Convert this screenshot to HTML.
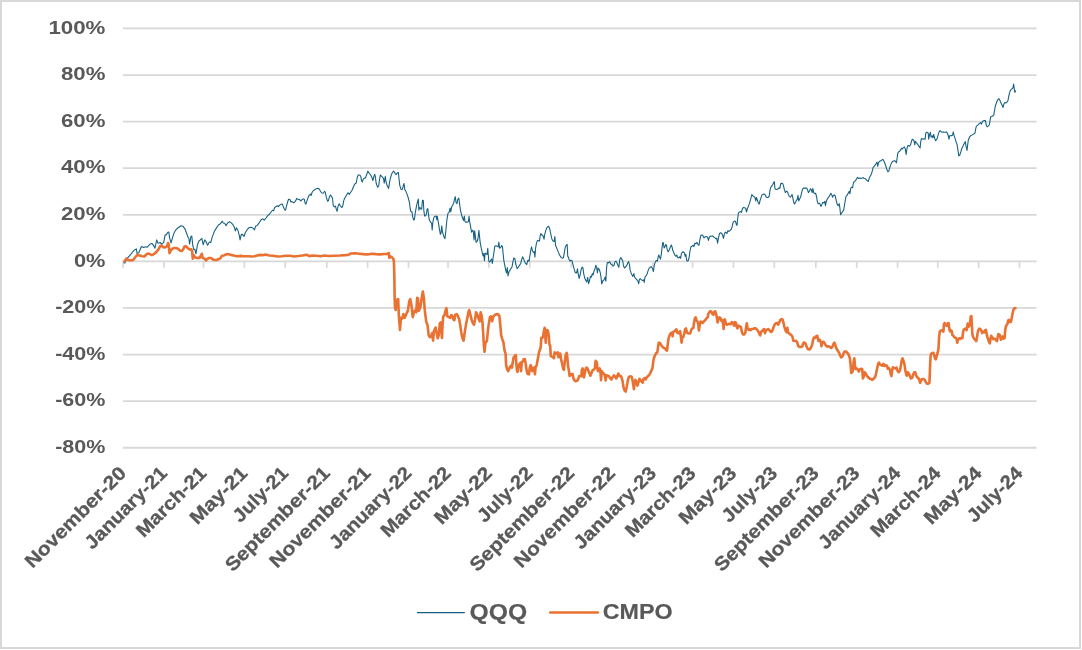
<!DOCTYPE html>
<html lang="en"><head><meta charset="utf-8"><title>QQQ vs CMPO</title>
<style>
html,body{margin:0;padding:0;background:#fff;}
body{width:1082px;height:650px;overflow:hidden;}
svg{display:block;}
text{stroke:#595959;stroke-width:0.3px;stroke-linejoin:round;font-family:"Liberation Sans",Arial,Helvetica,sans-serif;font-weight:700;fill:#595959;font-size:19.0px;}
</style></head><body>
<svg width="1082" height="650" viewBox="0 0 1082 650">
<rect x="0" y="0" width="1082" height="650" fill="#ffffff"/>
<rect x="1" y="1" width="1079" height="647" fill="none" stroke="#d8d8d8" stroke-width="2"/>
<g stroke="#d8d8d8" stroke-width="1.8" fill="none">
<line x1="122.9" y1="28.45" x2="1036.6" y2="28.45"/>
<line x1="122.9" y1="75.04" x2="1036.6" y2="75.04"/>
<line x1="122.9" y1="121.62" x2="1036.6" y2="121.62"/>
<line x1="122.9" y1="168.21" x2="1036.6" y2="168.21"/>
<line x1="122.9" y1="214.80" x2="1036.6" y2="214.80"/>
<line x1="122.9" y1="261.38" x2="1036.6" y2="261.38"/>
<line x1="122.9" y1="307.97" x2="1036.6" y2="307.97"/>
<line x1="122.9" y1="354.56" x2="1036.6" y2="354.56"/>
<line x1="122.9" y1="401.15" x2="1036.6" y2="401.15"/>
<line x1="122.9" y1="447.73" x2="1036.6" y2="447.73"/>
<line x1="123.10" y1="261.38" x2="123.10" y2="267.78" stroke-width="1.7"/>
<line x1="163.97" y1="261.38" x2="163.97" y2="267.78" stroke-width="1.7"/>
<line x1="203.49" y1="261.38" x2="203.49" y2="267.78" stroke-width="1.7"/>
<line x1="244.36" y1="261.38" x2="244.36" y2="267.78" stroke-width="1.7"/>
<line x1="285.23" y1="261.38" x2="285.23" y2="267.78" stroke-width="1.7"/>
<line x1="326.77" y1="261.38" x2="326.77" y2="267.78" stroke-width="1.7"/>
<line x1="367.63" y1="261.38" x2="367.63" y2="267.78" stroke-width="1.7"/>
<line x1="408.50" y1="261.38" x2="408.50" y2="267.78" stroke-width="1.7"/>
<line x1="448.03" y1="261.38" x2="448.03" y2="267.78" stroke-width="1.7"/>
<line x1="488.90" y1="261.38" x2="488.90" y2="267.78" stroke-width="1.7"/>
<line x1="529.76" y1="261.38" x2="529.76" y2="267.78" stroke-width="1.7"/>
<line x1="571.30" y1="261.38" x2="571.30" y2="267.78" stroke-width="1.7"/>
<line x1="612.17" y1="261.38" x2="612.17" y2="267.78" stroke-width="1.7"/>
<line x1="653.03" y1="261.38" x2="653.03" y2="267.78" stroke-width="1.7"/>
<line x1="692.56" y1="261.38" x2="692.56" y2="267.78" stroke-width="1.7"/>
<line x1="733.43" y1="261.38" x2="733.43" y2="267.78" stroke-width="1.7"/>
<line x1="774.30" y1="261.38" x2="774.30" y2="267.78" stroke-width="1.7"/>
<line x1="815.83" y1="261.38" x2="815.83" y2="267.78" stroke-width="1.7"/>
<line x1="856.70" y1="261.38" x2="856.70" y2="267.78" stroke-width="1.7"/>
<line x1="897.57" y1="261.38" x2="897.57" y2="267.78" stroke-width="1.7"/>
<line x1="937.77" y1="261.38" x2="937.77" y2="267.78" stroke-width="1.7"/>
<line x1="978.63" y1="261.38" x2="978.63" y2="267.78" stroke-width="1.7"/>
<line x1="1019.50" y1="261.38" x2="1019.50" y2="267.78" stroke-width="1.7"/>
</g>
<g text-anchor="end" style="filter:grayscale(1)">
<text style="stroke-width:0" x="105.4" y="33.65" textLength="57.0" lengthAdjust="spacingAndGlyphs">100%</text>
<text style="stroke-width:0" x="105.4" y="80.24" textLength="44.4" lengthAdjust="spacingAndGlyphs">80%</text>
<text style="stroke-width:0" x="105.4" y="126.82" textLength="44.4" lengthAdjust="spacingAndGlyphs">60%</text>
<text style="stroke-width:0" x="105.4" y="173.41" textLength="44.4" lengthAdjust="spacingAndGlyphs">40%</text>
<text style="stroke-width:0" x="105.4" y="220.00" textLength="44.4" lengthAdjust="spacingAndGlyphs">20%</text>
<text style="stroke-width:0" x="105.4" y="266.58" textLength="31.5" lengthAdjust="spacingAndGlyphs">0%</text>
<text style="stroke-width:0" x="105.4" y="313.17" textLength="50.2" lengthAdjust="spacingAndGlyphs">-20%</text>
<text style="stroke-width:0" x="105.4" y="359.76" textLength="50.2" lengthAdjust="spacingAndGlyphs">-40%</text>
<text style="stroke-width:0" x="105.4" y="406.35" textLength="50.2" lengthAdjust="spacingAndGlyphs">-60%</text>
<text style="stroke-width:0" x="105.4" y="452.93" textLength="50.2" lengthAdjust="spacingAndGlyphs">-80%</text>
</g>
<g text-anchor="end" style="filter:grayscale(1)">
<text transform="translate(127.30,474.30) rotate(-45)" x="0" y="0" textLength="134.0" lengthAdjust="spacingAndGlyphs">November-20</text>
<text transform="translate(168.17,474.30) rotate(-45)" x="0" y="0" textLength="107.5" lengthAdjust="spacingAndGlyphs">January-21</text>
<text transform="translate(207.69,474.30) rotate(-45)" x="0" y="0" textLength="90.5" lengthAdjust="spacingAndGlyphs">March-21</text>
<text transform="translate(248.56,474.30) rotate(-45)" x="0" y="0" textLength="72.5" lengthAdjust="spacingAndGlyphs">May-21</text>
<text transform="translate(289.43,474.30) rotate(-45)" x="0" y="0" textLength="69.5" lengthAdjust="spacingAndGlyphs">July-21</text>
<text transform="translate(330.97,474.30) rotate(-45)" x="0" y="0" textLength="139.0" lengthAdjust="spacingAndGlyphs">September-21</text>
<text transform="translate(371.83,474.30) rotate(-45)" x="0" y="0" textLength="134.0" lengthAdjust="spacingAndGlyphs">November-21</text>
<text transform="translate(412.70,474.30) rotate(-45)" x="0" y="0" textLength="107.5" lengthAdjust="spacingAndGlyphs">January-22</text>
<text transform="translate(452.23,474.30) rotate(-45)" x="0" y="0" textLength="90.5" lengthAdjust="spacingAndGlyphs">March-22</text>
<text transform="translate(493.10,474.30) rotate(-45)" x="0" y="0" textLength="72.5" lengthAdjust="spacingAndGlyphs">May-22</text>
<text transform="translate(533.96,474.30) rotate(-45)" x="0" y="0" textLength="69.5" lengthAdjust="spacingAndGlyphs">July-22</text>
<text transform="translate(575.50,474.30) rotate(-45)" x="0" y="0" textLength="139.0" lengthAdjust="spacingAndGlyphs">September-22</text>
<text transform="translate(616.37,474.30) rotate(-45)" x="0" y="0" textLength="134.0" lengthAdjust="spacingAndGlyphs">November-22</text>
<text transform="translate(657.23,474.30) rotate(-45)" x="0" y="0" textLength="107.5" lengthAdjust="spacingAndGlyphs">January-23</text>
<text transform="translate(696.76,474.30) rotate(-45)" x="0" y="0" textLength="90.5" lengthAdjust="spacingAndGlyphs">March-23</text>
<text transform="translate(737.63,474.30) rotate(-45)" x="0" y="0" textLength="72.5" lengthAdjust="spacingAndGlyphs">May-23</text>
<text transform="translate(778.50,474.30) rotate(-45)" x="0" y="0" textLength="69.5" lengthAdjust="spacingAndGlyphs">July-23</text>
<text transform="translate(820.03,474.30) rotate(-45)" x="0" y="0" textLength="139.0" lengthAdjust="spacingAndGlyphs">September-23</text>
<text transform="translate(860.90,474.30) rotate(-45)" x="0" y="0" textLength="134.0" lengthAdjust="spacingAndGlyphs">November-23</text>
<text transform="translate(901.77,474.30) rotate(-45)" x="0" y="0" textLength="107.5" lengthAdjust="spacingAndGlyphs">January-24</text>
<text transform="translate(941.97,474.30) rotate(-45)" x="0" y="0" textLength="90.5" lengthAdjust="spacingAndGlyphs">March-24</text>
<text transform="translate(982.83,474.30) rotate(-45)" x="0" y="0" textLength="72.5" lengthAdjust="spacingAndGlyphs">May-24</text>
<text transform="translate(1023.70,474.30) rotate(-45)" x="0" y="0" textLength="69.5" lengthAdjust="spacingAndGlyphs">July-24</text>
</g>
<path d="M123.70,261.81 L124.85,263.06 L126.93,258.62 L130.40,254.88 L133.17,251.28 L134.56,249.89 L136.36,248.92 L137.05,253.49 L138.72,252.66 L141.49,246.56 L143.57,247.53 L145.65,246.84 L147.03,247.26 L149.81,244.34 L151.89,243.37 L153.96,246.15 L154.94,248.23 L156.74,239.91 L158.12,243.37 L160.20,242.40 L161.59,244.07 L163.67,242.40 L165.06,235.06 L166.44,234.64 L167.83,232.28 L168.80,232.01 L169.63,237.83 L171.02,242.96 L172.68,237.13 L174.34,232.28 L176.15,229.51 L178.23,227.71 L181.00,225.77 L183.08,226.32 L184.88,228.82 L186.54,232.98 L187.93,237.13 L188.90,238.24 L189.59,244.07 L190.98,236.44 L191.81,236.03 L192.78,245.45 L193.89,249.61 L194.86,249.33 L195.97,253.77 L197.36,245.45 L198.74,241.29 L200.41,239.91 L201.79,238.24 L203.18,244.76 L204.84,239.91 L206.23,241.99 L207.62,245.18 L209.42,241.99 L210.80,242.40 L212.19,237.13 L214.27,231.59 L216.35,228.12 L218.43,224.94 L220.09,223.96 L221.20,222.58 L222.31,221.19 L223.28,222.99 L224.67,223.27 L226.05,225.77 L227.44,223.27 L229.52,221.61 L230.91,222.58 L232.99,224.66 L234.37,227.43 L235.34,230.90 L236.45,227.71 L237.84,230.20 L239.22,235.06 L240.06,239.91 L241.30,234.36 L242.69,234.64 L244.08,236.44 L245.46,232.28 L246.85,230.20 L248.93,227.71 L251.01,227.15 L253.09,228.12 L254.47,229.93 L255.58,226.32 L257.25,225.35 L259.33,222.58 L261.40,219.39 L262.79,218.84 L264.18,220.22 L266.26,217.73 L267.64,215.65 L269.45,214.26 L271.24,211.69 L272.62,210.30 L273.60,210.72 L274.70,207.53 L276.09,206.56 L277.48,205.73 L278.45,206.56 L279.56,205.18 L280.94,204.34 L282.33,204.07 L283.30,206.84 L284.41,209.33 L285.52,210.30 L286.49,206.15 L287.60,201.99 L288.57,199.21 L289.95,199.49 L290.92,201.99 L292.03,201.57 L293.42,202.68 L294.81,201.99 L295.78,200.60 L296.61,198.52 L297.99,199.21 L299.66,199.63 L300.77,201.02 L301.74,199.91 L303.12,198.80 L304.23,199.21 L305.20,203.37 L305.90,204.07 L307.01,200.60 L308.25,197.13 L309.36,195.06 L310.33,194.09 L311.03,195.47 L312.13,192.28 L313.52,190.48 L315.60,189.09 L317.68,188.26 L319.07,188.82 L320.45,191.31 L321.84,192.98 L323.23,193.25 L324.61,191.31 L325.30,192.28 L326.28,197.13 L327.66,201.29 L328.49,200.60 L329.46,196.44 L330.43,195.06 L331.54,196.44 L332.51,198.52 L333.21,205.45 L334.32,206.84 L335.43,206.15 L336.40,209.61 L337.09,211.28 L338.06,206.15 L339.17,203.79 L340.55,206.15 L341.94,207.53 L342.91,205.45 L343.74,200.60 L344.71,198.24 L346.10,195.75 L347.49,193.67 L348.18,192.70 L349.29,194.36 L350.67,192.28 L352.06,190.20 L353.45,186.74 L354.83,183.96 L356.22,182.99 L357.19,177.73 L358.16,174.95 L359.55,174.95 L360.66,176.06 L361.63,181.19 L362.32,181.89 L363.15,179.39 L364.12,178.42 L365.51,177.73 L366.48,174.95 L367.87,171.07 L368.97,172.87 L370.08,174.26 L371.05,175.65 L372.02,177.73 L372.86,180.50 L373.83,176.62 L374.80,174.26 L375.49,177.73 L376.18,183.27 L377.57,187.15 L378.68,186.04 L379.51,179.81 L380.34,174.95 L381.45,176.06 L382.56,177.45 L383.53,178.42 L384.22,183.27 L385.33,176.34 L385.89,181.19 L387.00,185.35 L388.66,188.54 L389.49,182.58 L390.46,177.73 L391.85,173.57 L393.51,171.07 L394.62,172.46 L396.01,174.68 L397.39,172.87 L398.36,172.46 L399.06,179.11 L399.75,185.35 L401.14,189.51 L402.52,189.23 L403.35,185.35 L404.05,183.55 L404.74,189.51 L405.71,190.90 L407.10,194.36 L408.48,198.52 L409.45,202.68 L410.15,208.23 L410.84,211.69 L411.95,211.69 L412.64,216.54 L413.61,220.01 L414.45,219.32 L415.12,213.57 L416.37,206.64 L417.48,201.78 L418.31,199.01 L418.86,210.10 L419.83,207.33 L420.67,208.72 L421.64,209.13 L422.47,200.40 L423.30,200.40 L423.85,210.79 L424.69,216.06 L425.79,215.65 L426.49,213.57 L427.18,208.72 L427.87,208.72 L428.57,214.95 L429.26,219.81 L430.65,222.16 L431.62,223.27 L432.17,229.93 L432.73,223.27 L433.70,217.73 L434.81,216.34 L436.19,216.06 L436.89,219.81 L437.30,216.34 L438.27,221.89 L439.38,228.82 L440.35,234.36 L441.04,232.98 L441.74,225.77 L442.43,231.59 L443.54,235.75 L444.93,238.80 L445.90,230.20 L446.87,219.81 L447.98,213.29 L449.09,212.18 L450.06,208.02 L450.75,211.90 L451.72,206.64 L452.83,204.97 L453.80,202.48 L454.63,198.60 L455.32,196.65 L456.02,202.48 L456.99,203.59 L457.68,199.70 L458.79,198.04 L459.48,203.17 L460.45,210.10 L461.56,214.95 L462.53,217.73 L463.50,220.50 L464.33,216.06 L465.03,221.61 L466.00,222.16 L467.38,222.16 L468.35,221.61 L469.05,216.34 L469.74,221.89 L470.85,228.12 L471.54,232.28 L472.65,230.20 L473.35,231.59 L474.04,239.91 L474.73,230.90 L475.43,237.13 L476.12,242.40 L477.09,241.29 L478.06,238.52 L478.89,230.20 L479.45,235.75 L480.28,243.37 L481.25,248.23 L482.36,253.08 L483.05,255.85 L483.74,253.49 L484.44,260.70 L485.13,253.08 L486.10,253.77 L487.07,254.46 L487.76,248.23 L488.18,253.77 L488.87,261.40 L489.84,262.09 L490.95,260.01 L491.65,259.04 L492.34,263.48 L493.31,256.54 L494.14,251.00 L494.83,246.15 L495.80,245.73 L497.19,246.15 L498.16,246.84 L498.85,241.99 L499.55,248.23 L500.66,247.53 L501.63,245.45 L502.46,246.84 L503.15,253.77 L503.84,260.70 L504.82,265.55 L505.79,270.41 L506.48,272.90 L507.31,267.63 L508.00,275.95 L508.97,271.79 L509.94,270.41 L511.05,268.33 L512.02,266.94 L512.86,262.09 L513.83,257.93 L514.94,258.62 L515.63,263.48 L516.60,266.94 L517.29,268.74 L518.40,266.94 L519.79,264.86 L520.76,263.48 L521.73,259.32 L522.56,256.82 L523.53,258.62 L524.50,261.40 L525.61,263.48 L526.72,264.58 L527.69,260.70 L528.38,260.01 L529.08,261.40 L529.77,256.54 L530.74,250.30 L531.57,246.84 L532.54,251.00 L533.51,252.38 L534.34,251.69 L534.90,257.24 L535.59,248.23 L536.42,243.37 L537.39,240.60 L538.36,240.60 L539.47,241.02 L540.17,235.75 L540.86,233.67 L541.97,235.06 L542.94,235.75 L544.05,239.21 L544.74,234.36 L545.71,230.90 L546.68,228.12 L547.79,226.74 L548.76,226.32 L549.87,229.51 L550.84,234.36 L551.95,239.21 L553.06,241.02 L554.03,241.57 L554.85,236.61 L555.55,245.20 L556.93,248.67 L558.32,252.13 L559.70,255.18 L561.09,257.40 L562.48,258.37 L563.45,257.68 L564.28,252.83 L565.25,247.28 L566.36,244.93 L567.19,244.51 L567.74,256.29 L568.44,257.40 L569.13,259.76 L570.10,261.15 L571.07,260.18 L572.18,261.15 L573.15,265.30 L574.26,269.46 L575.23,272.65 L576.62,272.93 L577.45,268.77 L578.14,273.62 L579.11,278.48 L580.08,275.01 L581.19,269.46 L582.16,266.97 L582.99,268.08 L583.69,273.62 L584.66,277.78 L585.77,280.55 L586.74,281.94 L587.71,277.37 L588.54,283.74 L589.51,280.55 L590.48,276.40 L591.31,277.09 L592.28,273.62 L592.98,275.01 L594.09,270.85 L595.06,268.77 L595.75,265.30 L596.72,267.38 L597.41,272.93 L598.11,268.08 L599.21,269.46 L600.18,272.24 L601.02,277.09 L601.71,284.02 L602.68,280.97 L604.07,279.86 L605.04,277.09 L605.87,281.25 L606.56,268.08 L607.26,262.53 L608.50,262.95 L609.61,261.56 L610.72,263.92 L611.97,264.61 L613.08,266.00 L614.05,265.30 L614.88,261.84 L615.85,261.15 L616.82,262.53 L617.93,265.30 L618.90,267.38 L619.73,259.76 L620.70,257.68 L621.81,259.07 L622.78,261.15 L623.48,266.00 L624.58,268.08 L625.55,266.69 L626.52,266.00 L627.63,263.23 L628.60,261.56 L629.44,264.61 L630.13,270.16 L631.10,272.93 L632.07,275.01 L632.90,276.40 L633.87,273.62 L634.57,277.09 L635.67,278.48 L636.92,279.86 L638.03,281.25 L638.72,283.74 L639.42,279.17 L640.39,278.75 L641.50,279.86 L642.61,280.55 L643.58,279.86 L644.27,282.36 L644.96,277.09 L645.93,275.98 L647.04,274.32 L648.01,270.85 L649.12,268.08 L650.23,267.11 L651.48,266.69 L652.59,268.77 L653.42,271.54 L654.25,265.30 L655.36,261.84 L656.47,260.45 L657.44,261.15 L658.13,256.99 L658.83,254.91 L659.52,256.99 L660.49,259.07 L661.32,254.21 L662.01,247.98 L662.71,242.43 L663.40,243.12 L664.09,247.98 L665.06,246.59 L665.76,244.51 L666.45,245.20 L667.14,249.36 L668.11,251.86 L669.22,250.06 L670.33,247.28 L671.30,244.93 L672.00,246.59 L672.69,250.06 L673.80,252.83 L674.77,254.91 L675.88,256.29 L676.85,255.18 L677.54,257.40 L678.93,257.96 L679.90,256.57 L680.59,258.37 L681.42,253.52 L682.39,252.13 L683.36,251.86 L684.47,252.83 L685.17,256.29 L685.86,254.21 L686.55,259.76 L687.25,261.15 L688.35,260.45 L689.33,256.29 L690.02,250.75 L690.99,246.59 L692.10,246.31 L693.07,245.20 L693.90,246.59 L694.87,243.12 L695.84,243.82 L696.95,242.43 L698.06,244.51 L699.03,245.20 L699.85,239.71 L700.82,235.55 L701.93,234.86 L703.04,235.97 L704.01,237.91 L704.98,236.94 L706.09,236.52 L707.48,236.94 L708.45,240.41 L709.28,237.36 L710.25,235.97 L711.64,236.25 L712.74,235.97 L713.72,236.94 L714.82,237.63 L715.79,238.74 L716.77,238.33 L717.60,243.18 L718.57,237.63 L719.54,233.48 L720.65,232.78 L721.76,233.48 L722.73,235.55 L723.42,238.33 L724.39,234.17 L725.22,232.09 L726.19,232.78 L726.89,233.48 L727.86,230.70 L728.96,231.40 L730.35,230.01 L731.32,229.32 L732.15,226.54 L733.12,222.38 L734.23,221.00 L735.48,221.28 L736.31,224.46 L737.01,225.43 L737.70,218.23 L738.39,213.37 L739.36,211.99 L740.47,211.57 L741.44,212.40 L742.41,208.52 L743.52,207.41 L744.63,207.83 L745.60,208.24 L746.57,211.99 L747.40,208.52 L748.37,206.44 L749.34,203.67 L750.18,200.90 L751.15,197.43 L751.84,194.66 L752.95,195.77 L753.92,196.74 L754.89,197.15 L755.72,200.90 L756.41,197.43 L757.38,200.20 L758.35,202.98 L759.19,204.09 L760.16,200.20 L761.13,197.43 L761.96,194.94 L762.93,194.38 L764.04,193.96 L765.01,194.38 L765.98,196.74 L767.09,197.43 L768.20,197.43 L769.17,196.32 L769.86,191.19 L770.55,187.73 L771.52,186.34 L772.63,184.68 L773.60,182.87 L774.30,181.49 L774.99,188.84 L776.10,189.53 L777.07,189.39 L778.18,188.84 L779.15,187.73 L779.84,188.42 L780.67,183.84 L781.65,183.29 L782.62,183.57 L783.45,185.65 L784.42,189.81 L785.39,192.58 L786.50,191.19 L787.61,191.89 L788.30,194.38 L789.27,196.32 L790.38,197.15 L791.35,195.77 L792.04,194.38 L792.87,198.12 L793.71,202.28 L794.54,204.09 L795.51,202.28 L796.48,200.20 L797.31,199.51 L798.00,195.35 L798.70,200.90 L799.67,198.82 L800.64,197.15 L801.47,193.27 L802.44,189.39 L803.41,188.14 L804.52,188.00 L805.63,188.14 L806.60,188.00 L807.57,189.81 L808.40,192.58 L809.37,191.19 L810.48,188.84 L811.45,189.81 L812.14,192.58 L812.84,188.42 L813.67,192.58 L814.64,193.55 L815.61,193.27 L816.58,196.74 L817.27,201.31 L818.11,203.67 L819.08,203.25 L820.05,204.09 L820.88,206.44 L821.85,204.36 L822.82,202.28 L823.93,202.98 L824.90,201.31 L825.45,205.75 L826.28,201.31 L827.12,199.51 L828.09,197.71 L829.06,196.74 L829.89,194.94 L830.86,193.27 L831.83,194.94 L832.52,197.15 L833.35,195.77 L834.33,194.94 L835.30,196.04 L836.13,200.20 L837.10,204.09 L838.07,205.75 L839.18,203.67 L839.87,207.83 L840.56,214.76 L841.53,213.37 L842.64,211.57 L843.75,209.91 L844.70,203.72 L845.40,199.57 L846.09,196.10 L847.20,195.13 L848.17,193.33 L849.28,191.25 L849.97,193.74 L850.67,188.48 L851.64,187.09 L852.61,187.78 L853.30,183.62 L854.13,181.54 L855.38,180.85 L856.49,179.05 L857.46,177.38 L858.57,178.49 L859.68,178.08 L860.92,178.49 L862.03,178.08 L863.14,177.66 L864.39,178.49 L865.50,178.77 L866.61,180.16 L867.58,180.85 L868.27,181.54 L869.24,178.08 L870.35,176.00 L871.46,173.92 L872.43,170.45 L873.12,167.40 L874.23,166.29 L875.20,164.91 L876.17,163.52 L877.01,162.13 L877.70,166.29 L878.39,162.83 L879.36,161.44 L880.75,160.75 L881.86,160.06 L882.83,159.36 L883.80,160.75 L884.91,163.52 L885.88,166.29 L886.99,169.76 L887.96,171.84 L888.79,171.15 L889.76,167.68 L890.73,164.91 L891.56,162.83 L892.53,161.44 L893.50,161.03 L894.61,160.75 L895.72,161.44 L896.41,162.83 L897.11,157.98 L897.80,153.12 L898.77,151.74 L899.88,151.04 L900.85,149.66 L901.54,148.27 L902.51,148.96 L903.35,147.58 L904.32,146.89 L905.29,148.96 L906.12,154.51 L906.81,149.66 L907.50,146.19 L908.48,145.50 L909.58,146.19 L910.55,144.81 L911.25,142.03 L912.22,139.26 L913.05,139.68 L914.02,140.65 L914.71,144.81 L915.41,141.34 L916.38,142.73 L917.49,144.11 L918.46,145.50 L919.29,146.89 L920.12,147.99 L920.67,142.03 L921.37,138.57 L922.34,138.84 L923.45,139.26 L924.42,138.84 L925.11,139.26 L925.67,133.72 L926.22,132.33 L927.19,132.33 L928.16,133.02 L928.72,139.26 L929.55,134.41 L930.38,132.33 L931.07,137.18 L932.04,135.79 L933.01,137.87 L933.71,134.41 L934.54,137.87 L935.51,140.65 L936.48,139.68 L937.31,137.87 L938.28,134.41 L939.25,131.64 L940.08,130.53 L941.05,131.64 L942.16,132.33 L943.13,131.91 L944.24,132.33 L945.21,132.33 L946.32,131.91 L947.29,133.02 L948.26,135.79 L948.96,139.26 L949.65,135.79 L950.76,135.52 L951.73,135.79 L952.56,135.10 L953.25,131.91 L953.95,135.10 L954.92,137.87 L955.89,141.34 L957.00,144.11 L957.97,150.35 L958.80,155.90 L959.77,155.20 L960.88,151.74 L961.85,148.27 L962.82,146.61 L963.65,144.81 L964.62,142.73 L965.31,141.62 L966.01,146.19 L966.98,150.35 L967.67,144.81 L968.36,139.95 L969.47,137.18 L970.58,135.79 L971.83,135.10 L972.94,134.41 L974.05,133.72 L975.02,133.02 L975.71,128.86 L976.40,126.09 L977.51,125.40 L978.48,124.43 L979.45,123.60 L980.56,122.62 L981.53,124.01 L982.37,121.65 L983.34,120.82 L984.45,120.55 L985.45,120.60 L986.15,124.76 L987.12,126.84 L988.23,126.15 L989.33,124.76 L990.03,120.60 L990.72,116.86 L991.69,116.44 L992.80,115.75 L993.77,115.06 L994.46,110.90 L995.16,106.74 L996.27,103.27 L997.24,100.78 L998.21,99.11 L999.04,98.84 L1000.01,100.50 L1000.98,102.99 L1002.09,105.35 L1003.06,107.43 L1003.89,103.96 L1004.86,102.58 L1005.83,102.99 L1006.94,102.16 L1007.91,100.78 L1008.60,97.03 L1009.30,93.57 L1010.13,91.07 L1011.10,89.41 L1012.07,88.72 L1012.90,88.02 L1013.60,84.14 L1014.29,88.72 L1014.84,92.46 L1015.54,90.79" fill="none" stroke="#156082" stroke-width="1.08" stroke-linejoin="round" stroke-linecap="round"/>
<path d="M124.30,261.37 L124.85,260.70 L126.24,258.62 L128.32,260.01 L131.09,260.43 L133.17,260.01 L135.25,257.24 L137.33,254.88 L139.41,255.43 L142.18,256.27 L144.26,256.54 L146.34,254.46 L147.73,253.49 L149.81,254.05 L151.89,255.16 L153.96,254.05 L156.04,252.38 L158.12,249.89 L160.20,246.15 L161.59,245.45 L162.98,247.12 L165.06,247.53 L167.13,246.15 L168.11,242.96 L168.80,245.45 L169.49,253.08 L170.60,251.00 L171.99,248.92 L174.07,247.95 L176.15,247.95 L178.23,248.92 L180.30,250.72 L181.69,251.00 L183.08,249.61 L184.46,246.56 L185.85,246.15 L187.24,247.53 L188.62,248.92 L190.01,249.61 L191.40,249.33 L192.09,251.00 L192.78,258.62 L193.75,255.16 L194.86,257.24 L196.94,257.93 L198.33,257.65 L199.71,257.93 L201.10,255.16 L201.79,253.77 L202.76,257.93 L204.57,258.62 L205.95,260.43 L207.34,259.04 L208.72,257.93 L210.80,257.93 L212.19,259.04 L214.27,260.01 L216.35,260.01 L218.43,259.32 L220.51,258.21 L221.89,255.85 L223.97,255.43 L226.05,254.46 L227.44,254.05 L229.52,254.46 L232.29,255.16 L235.06,255.85 L237.84,256.27 L240.61,255.85 L243.38,256.27 L246.16,256.27 L248.93,256.27 L251.70,256.54 L254.47,256.27 L257.25,255.43 L260.02,254.88 L262.79,255.16 L265.56,254.46 L268.34,255.16 L269.16,255.52 L273.32,255.79 L277.48,256.49 L281.64,256.21 L285.79,255.79 L289.95,255.79 L294.11,256.49 L298.27,256.07 L302.43,255.52 L306.59,254.69 L309.36,256.21 L312.13,255.52 L316.29,255.79 L320.45,256.21 L324.61,255.52 L328.77,256.07 L334.32,255.79 L339.86,255.52 L345.41,255.10 L348.87,254.69 L350.95,253.44 L355.11,253.30 L359.27,253.72 L363.43,254.13 L367.59,254.41 L371.75,253.72 L375.91,254.13 L380.06,254.41 L384.22,253.99 L387.69,253.72 L388.80,253.02 L389.35,257.87 L390.46,256.49 L391.85,257.18 L393.23,258.57 L393.93,261.34 L394.34,276.59 L394.62,297.38 L395.04,308.48 L395.73,309.86 L396.42,300.16 L397.39,299.46 L398.09,299.05 L398.17,299.11 L398.86,315.75 L399.97,329.89 L400.94,317.83 L402.33,318.52 L403.44,314.09 L404.69,317.83 L406.49,313.67 L407.87,310.90 L409.26,301.19 L410.23,299.11 L411.34,304.66 L412.73,317.13 L414.11,311.59 L415.22,310.20 L416.19,312.28 L417.16,297.73 L417.99,298.42 L418.69,310.90 L420.35,307.43 L421.74,297.73 L422.85,291.49 L423.82,297.73 L424.79,310.20 L426.17,321.29 L427.56,325.45 L428.67,335.16 L430.06,337.24 L431.44,335.16 L432.13,333.08 L433.11,340.70 L433.94,331.00 L435.60,327.53 L436.57,332.38 L437.68,338.21 L438.79,335.16 L439.76,323.37 L440.73,322.40 L441.42,331.00 L441.98,337.93 L442.53,325.45 L443.23,316.44 L444.61,315.06 L445.58,310.20 L446.41,308.12 L447.38,316.44 L448.77,317.13 L450.16,317.83 L451.27,315.06 L452.24,315.75 L453.21,319.21 L454.32,320.18 L455.29,314.64 L456.67,314.09 L457.78,315.75 L459.17,319.21 L460.28,325.45 L461.25,332.38 L462.36,337.93 L463.60,340.70 L464.71,332.38 L466.10,324.07 L467.49,317.13 L468.60,311.59 L469.29,310.20 L470.26,314.36 L471.65,319.91 L473.03,323.37 L474.00,324.76 L475.11,319.21 L476.08,312.28 L477.19,314.36 L478.58,318.52 L479.69,321.29 L480.66,312.28 L481.63,315.75 L482.46,322.68 L483.15,332.38 L483.84,344.86 L484.54,351.79 L485.51,342.09 L486.89,341.40 L487.87,331.00 L488.97,322.68 L489.94,317.13 L491.05,316.44 L492.16,321.29 L493.13,317.13 L494.52,315.06 L495.91,314.36 L497.99,314.09 L499.37,315.75 L500.34,325.45 L501.17,335.16 L502.14,338.62 L503.53,342.78 L504.50,350.41 L505.61,353.87 L506.09,364.91 L507.06,369.07 L508.17,371.15 L509.56,367.68 L510.94,365.60 L511.91,367.68 L512.74,362.83 L513.44,357.98 L514.69,355.90 L515.79,355.20 L516.35,363.52 L516.90,370.45 L517.60,371.84 L518.29,366.29 L519.26,364.21 L520.37,362.83 L521.06,371.15 L521.76,362.13 L522.73,361.44 L523.70,359.36 L524.81,359.09 L525.78,364.21 L526.61,370.45 L527.58,373.92 L528.96,374.33 L529.66,368.37 L530.63,365.18 L531.46,366.99 L532.15,371.15 L533.12,368.37 L534.09,367.68 L534.93,374.33 L535.62,366.99 L536.59,365.60 L537.98,357.98 L539.09,351.74 L540.06,349.66 L540.75,346.89 L541.30,337.87 L542.13,337.87 L542.97,337.18 L543.80,331.64 L544.63,327.75 L545.18,335.10 L545.74,342.73 L546.29,333.02 L546.99,329.97 L547.96,330.94 L548.79,335.79 L549.48,344.81 L550.18,345.50 L550.73,355.90 L551.84,356.59 L553.23,357.28 L553.92,358.25 L554.61,352.43 L555.72,353.12 L556.69,353.82 L557.66,352.43 L558.49,357.28 L559.19,353.82 L560.16,353.54 L561.13,359.36 L562.24,364.21 L563.21,369.07 L563.90,369.76 L564.73,362.13 L565.70,355.20 L566.67,352.85 L567.37,357.98 L568.06,366.29 L568.89,370.45 L569.58,376.00 L570.55,375.30 L571.52,373.92 L572.63,374.33 L573.33,378.08 L574.30,380.16 L575.68,381.13 L577.07,380.85 L578.18,378.77 L579.29,376.00 L580.54,375.72 L581.23,376.28 L581.92,369.76 L582.62,368.37 L583.31,373.23 L583.86,377.38 L584.83,373.23 L585.80,368.37 L586.77,367.68 L587.88,369.07 L588.99,372.53 L590.38,375.72 L591.35,373.23 L592.46,370.45 L593.71,369.76 L594.82,368.37 L595.65,360.75 L596.20,361.44 L596.89,362.83 L597.59,370.45 L598.56,371.15 L599.67,368.37 L600.36,370.45 L601.05,380.16 L601.75,371.15 L602.86,373.23 L604.24,373.92 L604.94,376.00 L605.63,380.43 L606.32,375.30 L607.57,375.72 L608.96,376.00 L610.06,378.08 L611.45,379.46 L612.84,376.69 L613.95,375.30 L615.06,376.69 L616.30,378.49 L617.27,376.00 L618.38,373.50 L619.35,376.00 L620.46,375.72 L621.43,377.11 L622.54,380.85 L623.51,387.09 L624.62,390.55 L625.73,391.52 L626.70,387.09 L627.81,380.85 L628.78,377.11 L630.17,376.28 L631.55,376.69 L632.52,380.16 L633.22,384.32 L633.91,389.17 L634.60,382.93 L635.43,379.88 L636.40,381.54 L637.38,385.70 L638.48,382.24 L639.45,378.77 L640.56,380.16 L641.67,381.54 L642.64,382.65 L643.61,378.77 L644.72,378.08 L645.82,379.30 L646.93,376.94 L648.32,375.97 L649.70,374.17 L651.09,371.40 L652.48,367.93 L653.17,362.38 L653.86,358.23 L654.97,355.45 L655.94,353.37 L657.33,352.40 L658.02,347.13 L658.72,342.70 L660.10,342.98 L661.07,345.06 L662.18,346.44 L663.57,347.83 L664.95,348.24 L666.06,349.91 L667.03,350.60 L667.73,344.36 L668.42,338.82 L669.81,334.66 L670.78,333.27 L671.89,332.58 L672.58,336.32 L673.27,331.89 L674.66,331.19 L675.77,329.81 L676.46,329.39 L677.15,332.58 L678.54,333.27 L679.51,332.16 L680.20,331.19 L680.90,336.74 L681.59,342.70 L682.28,337.43 L683.25,337.15 L684.36,333.27 L685.06,329.39 L686.03,328.42 L686.86,332.58 L687.83,333.27 L689.21,333.55 L690.18,333.27 L691.29,329.81 L692.40,328.42 L693.37,327.73 L694.07,322.18 L695.04,318.02 L695.73,317.33 L696.56,320.79 L697.53,321.49 L698.23,324.26 L698.92,330.50 L699.61,325.65 L700.58,321.49 L701.69,322.18 L702.66,322.87 L703.77,321.49 L705.16,320.10 L706.54,318.30 L707.65,317.33 L708.35,313.86 L709.32,312.20 L710.43,311.09 L711.40,311.78 L712.37,313.86 L713.48,314.56 L714.45,311.78 L715.28,311.37 L716.25,314.56 L716.94,318.02 L717.63,322.46 L718.60,318.72 L719.44,317.33 L720.41,318.02 L721.38,320.79 L722.49,320.10 L723.18,324.26 L723.60,328.84 L724.15,320.79 L724.84,319.41 L725.67,322.87 L726.65,324.68 L728.03,324.26 L729.42,323.84 L730.80,324.26 L731.91,322.18 L733.16,322.87 L733.99,325.65 L734.96,322.18 L735.93,322.87 L736.77,327.03 L737.46,328.42 L738.43,325.65 L739.82,326.34 L740.92,327.03 L741.89,331.89 L742.87,334.38 L744.25,334.38 L745.36,332.58 L746.05,327.73 L746.75,323.29 L747.44,327.73 L748.41,329.81 L749.52,329.11 L750.49,330.22 L751.60,329.11 L752.99,328.84 L754.37,328.42 L755.76,328.42 L757.14,329.81 L758.53,331.89 L759.50,334.38 L760.19,335.35 L761.03,331.89 L762.00,331.19 L763.11,329.81 L764.08,329.11 L765.05,333.27 L765.88,330.22 L766.85,329.81 L768.23,329.11 L769.21,329.81 L770.31,331.61 L771.42,331.89 L772.39,330.50 L773.36,327.73 L774.47,324.95 L775.86,323.29 L777.25,322.87 L778.22,324.68 L779.33,322.18 L780.30,320.10 L781.40,319.13 L782.51,319.41 L783.48,322.87 L784.45,327.03 L785.56,330.50 L786.67,332.16 L787.37,327.73 L788.06,332.58 L789.03,333.27 L789.85,334.11 L791.24,334.81 L792.62,337.16 L793.32,340.77 L794.70,341.04 L796.09,340.77 L797.20,342.43 L798.17,345.90 L799.56,346.87 L800.94,347.01 L802.33,346.31 L803.02,343.82 L804.13,342.43 L805.52,343.54 L806.49,346.31 L807.87,349.09 L809.26,349.64 L810.65,348.25 L812.03,345.20 L813.14,339.66 L813.84,337.58 L815.22,337.99 L816.19,336.19 L817.30,335.78 L817.99,338.96 L818.55,341.04 L819.66,339.66 L820.77,341.74 L821.46,346.31 L822.15,342.43 L823.54,341.74 L824.51,343.12 L825.62,345.20 L827.01,346.59 L828.39,346.31 L829.78,346.87 L831.16,347.98 L832.55,346.59 L833.52,343.82 L834.49,342.71 L835.32,345.20 L836.29,348.25 L837.68,350.47 L839.07,352.83 L840.18,355.60 L841.15,357.40 L842.53,356.29 L843.50,353.52 L844.61,351.44 L846.00,351.44 L847.38,352.83 L848.77,354.91 L849.88,358.37 L850.57,364.61 L851.27,372.93 L852.24,372.24 L852.93,370.16 L853.62,361.84 L854.32,358.37 L855.01,366.00 L855.70,369.05 L856.81,368.49 L857.78,369.46 L858.89,371.54 L859.86,369.46 L860.97,368.77 L862.22,369.05 L862.91,378.48 L863.74,376.40 L864.71,372.24 L865.68,373.62 L866.79,375.70 L868.18,377.37 L869.57,378.48 L870.95,379.17 L872.34,379.86 L873.72,378.48 L875.11,377.09 L876.08,373.62 L877.19,368.08 L878.16,363.92 L878.99,362.53 L879.96,364.33 L881.35,365.30 L882.46,365.72 L883.43,363.92 L884.40,366.00 L885.51,365.30 L886.89,365.72 L887.87,368.77 L888.97,368.08 L890.08,370.16 L890.78,374.32 L891.47,375.98 L892.16,370.16 L892.86,367.38 L894.24,368.08 L895.49,368.49 L896.60,367.66 L897.57,370.85 L898.68,372.24 L900.06,370.16 L901.04,364.61 L901.87,359.76 L902.56,358.37 L903.53,361.15 L904.50,364.61 L905.33,370.16 L906.30,375.01 L907.00,375.70 L907.69,372.24 L908.66,373.21 L909.77,375.70 L910.88,378.48 L912.13,377.78 L913.23,374.32 L914.21,372.24 L915.31,372.24 L916.01,375.01 L916.98,377.09 L918.09,377.78 L919.20,379.58 L920.17,382.91 L921.14,379.86 L922.25,379.17 L923.63,379.17 L924.74,379.86 L925.71,381.94 L927.10,383.74 L928.48,383.74 L929.45,382.63 L929.87,371.54 L930.29,360.45 L930.84,354.21 L931.95,353.24 L933.34,352.83 L934.24,355.16 L935.07,358.62 L935.77,359.32 L936.74,355.85 L937.71,352.38 L938.54,348.23 L939.09,337.13 L939.79,331.59 L940.90,330.48 L942.28,330.20 L943.39,331.59 L943.95,323.96 L944.64,322.99 L945.75,325.35 L946.86,325.77 L947.83,323.27 L948.52,322.99 L949.21,328.12 L949.91,331.31 L951.02,330.48 L951.71,330.90 L952.40,335.06 L953.37,335.75 L954.34,337.13 L955.45,337.83 L956.56,338.52 L957.26,342.68 L958.23,339.21 L959.33,338.24 L960.30,338.80 L961.41,337.83 L962.38,338.24 L963.08,332.28 L963.77,329.51 L964.88,328.82 L965.85,328.54 L966.54,330.20 L967.24,327.43 L967.65,323.55 L968.62,326.74 L969.32,325.77 L970.01,323.27 L970.70,316.62 L971.40,316.06 L971.81,323.27 L972.37,334.36 L973.20,337.13 L974.17,338.80 L975.28,339.91 L976.25,341.02 L976.94,337.83 L977.63,332.98 L978.33,330.20 L979.30,328.54 L980.41,329.09 L981.52,330.90 L982.21,332.98 L983.18,331.59 L984.29,332.28 L985.26,330.20 L985.95,329.93 L986.65,333.67 L987.34,337.13 L988.31,339.63 L989.14,342.40 L989.83,343.37 L990.53,338.52 L991.22,335.75 L992.19,337.13 L993.16,339.21 L994.27,338.52 L995.38,339.21 L996.35,340.60 L997.04,341.02 L997.74,337.13 L998.43,334.09 L999.54,334.64 L1000.23,336.44 L1000.92,339.63 L1001.89,338.52 L1002.59,336.44 L1003.70,338.52 L1004.67,337.83 L1005.08,331.59 L1005.64,327.15 L1006.47,325.35 L1007.44,323.96 L1008.13,320.50 L1008.83,319.81 L1009.52,321.89 L1010.91,321.89 L1011.60,318.42 L1012.29,314.95 L1012.99,311.49 L1013.68,309.13 L1014.79,308.02 L1015.48,308.16" fill="none" stroke="#e97132" stroke-width="2.6" stroke-linejoin="round" stroke-linecap="round"/>
<line x1="417.3" y1="612.55" x2="464.4" y2="612.55" stroke="#156082" stroke-width="1.15" stroke-linecap="round"/>
<line x1="550.3" y1="612.5" x2="597.8" y2="612.5" stroke="#e97132" stroke-width="2.7" stroke-linecap="round"/>
<g style="filter:grayscale(1)">
<text style="font-size:21.5px;stroke-width:0.15px" x="469.6" y="618.5" textLength="57.5" lengthAdjust="spacingAndGlyphs">QQQ</text>
<text style="font-size:21.5px;stroke-width:0.15px" x="602.7" y="618.5" textLength="70" lengthAdjust="spacingAndGlyphs">CMPO</text>
</g>
</svg></body></html>
